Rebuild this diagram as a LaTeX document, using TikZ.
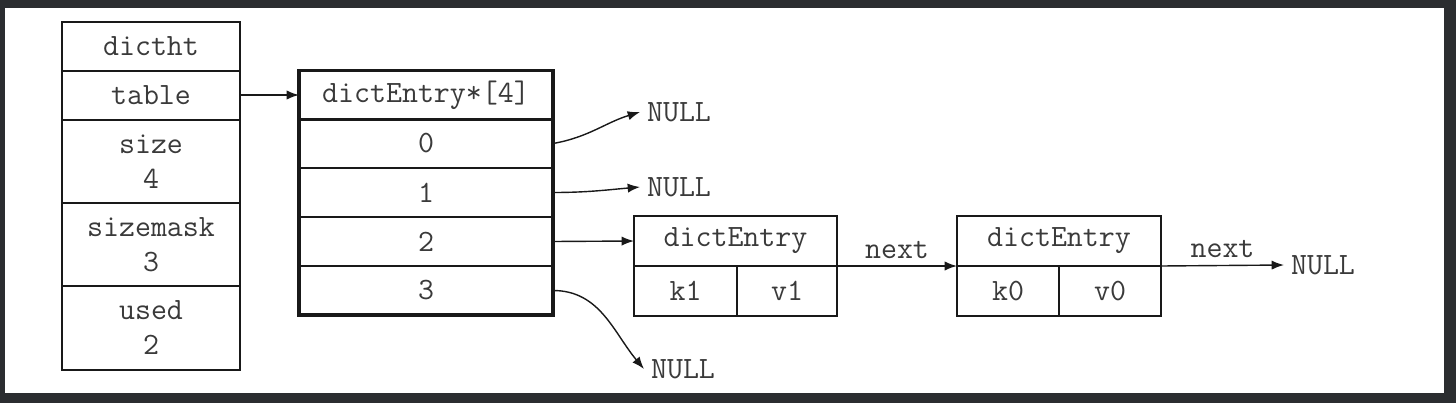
\documentclass[tikz,border=0pt]{standalone}
\usepackage{fontspec}
\usepackage{xcolor}
\usetikzlibrary{arrows.meta,positioning}
\definecolor{frame}{RGB}{43,45,48}
\definecolor{txt}{RGB}{58,58,58}
\definecolor{ink}{RGB}{25,25,25}

\begin{document}
\begin{tikzpicture}[
    % GLOBAL CFG
    x=0.5pt, y=0.5pt,
    font=\ttfamily\fontsize{15.5}{17.5}\selectfont,
    >=Latex,
    % Styles
    field/.style={% For one field of a struct
        rectangle,
        draw=ink,
        line width=1pt,
        inner sep=0pt,
        outer sep=0pt,
        text=txt,
        align=center,
        minimum width=89pt,
        minimum height=24.5pt,
        },
    slot/.style={% For the buckets of the array
        field,
        minimum width=127pt,
        },
    null/.style={% For the NULL ends
        anchor=west,
        text=txt,
        },
    ArrowC1/.style={% Pointers
        ->,
        draw=ink,
        line width=0.7pt,
        },
    ]

    % Background and page
    \fill[frame] (0,0) rectangle (1456,403);
    \fill[white] (5,10) rectangle (1444,395);

    % Draw the dictht struct
    \node [field] (dictht) at (151,356.5) {dictht};
    \node [field] (tbl) at (151,308) {table};
    \node [field, minimum height=41.5pt] (size) at (151,241.5) {size\\4};
    \node [field, minimum height=41.5pt] (sizemask) at (151,158.5) {sizemask\\3};
    \node [field, minimum height=42pt] (used) at (151,75) {used\\2};

    % Draw the table array
    \node [slot] (hdr) at (426,308) {dictEntry*[4]};
    \node [slot] (b0) at (426,259.5) {0};
    \node [slot] (b1) at (426,210.5) {1};
    \node [slot] (b2) at (426,161.5) {2};
    \node [slot] (b3) at (426,112.5) {3};
    \draw [ink, line width=1.7pt] (hdr.north west) rectangle (b3.south east);

    % Draw the entries
    \node [field, minimum width=101.5pt, minimum height=25pt] (e1) at (735.5,162) {dictEntry};
    \node [field, minimum width=51.5pt, minimum height=25pt, anchor=north west] (k1) at (e1.south west) {k1};
    \node [field, minimum width=50pt, minimum height=25pt, anchor=north east] (v1) at (e1.south east) {v1};
    \node [field, minimum width=102pt, minimum height=25pt] (e2) at (1059,162) {dictEntry};
    \node [field, minimum width=51pt, minimum height=25pt, anchor=north west] (k0) at (e2.south west) {k0};
    \node [field, minimum width=51pt, minimum height=25pt, anchor=north east] (v0) at (e2.south east) {v0};

    % NULLs
    \node [null] (n0) at (640,291) {NULL};
    \node [null] (n1) at (640,216) {NULL};
    \node [null] (n3) at (644,34) {NULL};
    \node [null] (n4) at (1284,138) {NULL};

    % Pointers
    \draw [ArrowC1] (tbl.east) -- (hdr.west);
    \draw [ArrowC1] (b0.east) to[out=10,in=197] (n0.west);
    \draw [ArrowC1] (b1.east) to[out=0,in=185] (n1.west);
    \draw [ArrowC1] (b2.east) -- (e1.west);
    \draw [ArrowC1] (b3.east) to[out=0,in=130] (n3.west);
    \draw [ArrowC1] (e1.south east) -- node[above, text=txt] {next} (e2.south west);
    \draw [ArrowC1] (e2.south east) -- node[above, text=txt] {next} (n4.west);
\end{tikzpicture}
\end{document}
